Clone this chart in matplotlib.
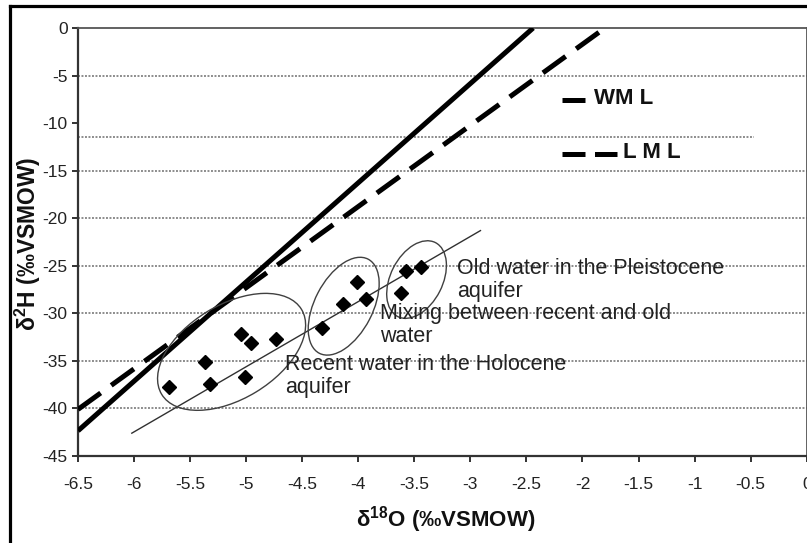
import matplotlib
matplotlib.use("Agg")
import matplotlib.pyplot as plt
from matplotlib.patches import Ellipse
from matplotlib.lines import Line2D
import matplotlib.transforms as mtransforms

plt.rcParams['font.family'] = ['Liberation Sans', 'DejaVu Sans']
plt.rcParams['axes.unicode_minus'] = False
plt.rcParams['mathtext.fontset'] = 'custom'
plt.rcParams['mathtext.rm'] = 'Liberation Sans'
plt.rcParams['mathtext.bf'] = 'Liberation Sans:bold'

# ---------------- data ----------------
d18O = [-5.69, -5.37, -5.32, -5.05, -4.96, -5.01, -4.73, -4.32, -4.14, -4.01, -3.93, -3.62, -3.57, -3.44]
d2H = [-37.7, -35.1, -37.4, -32.2, -33.15, -36.7, -32.7, -31.5, -29.0, -26.7, -28.5, -27.9, -25.6, -25.1]

wml_x = [-6.5, -2.44]
wml_y = [-42.35, 0.0]
lml_x = [-6.5, -1.80]
lml_y = [-40.1, 0.0]
trend_x = [-6.02, -2.91]
trend_y = [-42.6, -21.3]

# groups: (centre x, centre y) in data units
group_centres_x = [-5.13, -4.13, -3.48]
group_centres_y = [-34.05, -29.25, -26.45]
group_labels = ["Recent water in the Holocene\naquifer",
                "Mixing between recent and old\nwater",
                "Old water in the Pleistocene\naquifer"]

x_ticks = [-6.5, -6, -5.5, -5, -4.5, -4, -3.5, -3, -2.5, -2, -1.5, -1, -0.5, 0]
y_ticks = [0, -5, -10, -15, -20, -25, -30, -35, -40, -45]
grid_levels = [-5, -15, -20, -25, -30, -35, -40]
extra_line_y = -11.45
extra_line_x = [-6.5, -0.47]

legend_labels = ["WM L", "L M L"]

# ---------------- figure ----------------
W, H = 807, 543
fig = plt.figure(figsize=(W / 100, H / 100), dpi=100)
fig.patch.set_facecolor('white')
ax = fig.add_axes([78 / W, 1 - 456 / H, (806.7 - 78) / W, (456 - 28) / H])

ax.set_xlim(-6.5, 0)
ax.set_ylim(-45, 0)

# grid lines
for g in grid_levels:
    ax.axhline(g, color='#8c8c8c', lw=1.4, ls=(0, (1, 0.8)), zorder=1)
ax.plot(extra_line_x, [extra_line_y, extra_line_y], color='#8c8c8c', lw=1.4,
        ls=(0, (1, 0.8)), zorder=1)

# meteoric lines
ax.plot(wml_x, wml_y, color='black', lw=3.6, solid_capstyle='butt', zorder=3)
ax.plot(lml_x, lml_y, color='black', lw=3.6, dashes=(5.6, 2.6), zorder=3)

# trend line
ax.plot(trend_x, trend_y, color='#303030', lw=1.0, zorder=3)

# points
ax.plot(d18O, d2H, ls='none', marker='D', ms=7.2, color='black', zorder=4)

# ellipses (sizes in pixels / 100 -> inches)
ell_w = [163.6, 106, 83]
ell_h = [94, 58, 52]
ell_a = [31.3, 62.6, 63]
for cx, cy, w, h, a in zip(group_centres_x, group_centres_y, ell_w, ell_h, ell_a):
    tr = fig.dpi_scale_trans + mtransforms.ScaledTranslation(cx, cy, ax.transData)
    e = Ellipse((0, 0), w / 100, h / 100, angle=a, transform=tr, fill=False,
                edgecolor='#404040', lw=1.0, zorder=3)
    ax.add_patch(e)

# group texts
text_pos = [(-4.653, -38.41), (-3.806, -33.0), (-3.119, -28.29)]
for (tx, ty), lab in zip(text_pos, group_labels):
    ax.text(tx, ty, lab, fontsize=15.5, color='#222222', ha='left', va='baseline',
            linespacing=1.12, zorder=5)

# legend (manual)
def fx(px):
    return (px - 78) / (806.7 - 78)

def fy(py):
    return (456 - py) / (456 - 28)

ax.plot([fx(561.7), fx(585)], [fy(100), fy(100)], transform=ax.transAxes,
        color='black', lw=3.6, solid_capstyle='butt', clip_on=False)
ax.text(fx(594), fy(98), legend_labels[0], transform=ax.transAxes, fontsize=16,
        fontweight='bold', va='center', ha='left', color='#111111')
ax.plot([fx(561.7), fx(616.7)], [fy(154.3), fy(154.3)], transform=ax.transAxes,
        color='black', lw=3.6, dashes=(4.6, 1.9), clip_on=False)
ax.text(fx(623), fy(152.5), legend_labels[1], transform=ax.transAxes, fontsize=16,
        fontweight='bold', va='center', ha='left', color='#111111')

# axes styling
ax.set_xticks(x_ticks)
ax.set_xticklabels([f"{v:g}" for v in x_ticks])
ax.set_yticks(y_ticks)
ax.set_yticklabels([f"{v:g}" for v in y_ticks])
ax.tick_params(axis='x', direction='out', length=4, width=1.3, pad=11,
               labelsize=12.5, colors='#222222')
ax.tick_params(axis='y', direction='out', length=4.5, width=1.3, pad=3,
               labelsize=12.5, colors='#222222')
for side in ['left', 'bottom']:
    ax.spines[side].set_color('#333333')
    ax.spines[side].set_linewidth(1.6)
for side in ['top', 'right']:
    ax.spines[side].set_color('#555555')
    ax.spines[side].set_linewidth(1.3)

fig.text(445.5 / W, 1 - 520 / H, r'δ$^{\mathbf{18}}$O (‰VSMOW)', fontsize=16,
         fontweight='bold', ha='center', va='center', color='#111111')
fig.text(28 / W, 1 - 243.5 / H, r'δ$^{\mathbf{2}}$H (‰VSMOW)', fontsize=16.5,
         fontweight='bold', ha='center', va='center', rotation=90, color='#111111')

# outer frame (left and top visible)
fig.add_artist(Line2D([10 / W, 10 / W], [0, 1 - 6 / H], color='black', lw=2.3,
                      transform=fig.transFigure))
fig.add_artist(Line2D([10 / W, 1], [1 - 6 / H, 1 - 6 / H], color='black', lw=2.3,
                      transform=fig.transFigure))

fig.savefig('out.png', dpi=100, facecolor='white')
